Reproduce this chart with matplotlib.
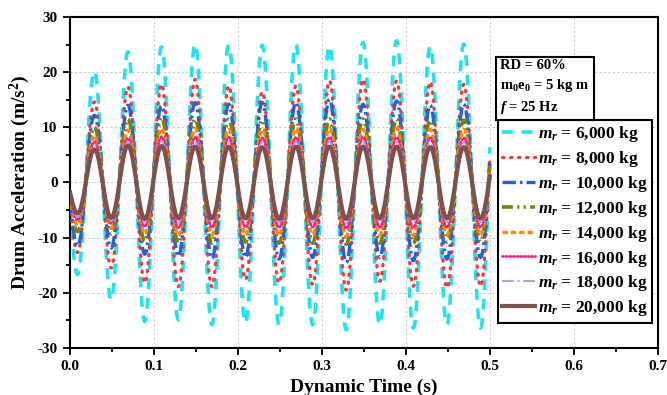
import numpy as np
import matplotlib
matplotlib.use("Agg")
import matplotlib.pyplot as plt
from matplotlib.ticker import MultipleLocator

plt.rcParams['font.family'] = ['Liberation Serif', 'DejaVu Serif']
plt.rcParams['font.weight'] = 'bold'
plt.rcParams['mathtext.fontset'] = 'custom'
plt.rcParams['mathtext.rm'] = 'Liberation Serif:bold'
plt.rcParams['mathtext.it'] = 'Liberation Serif:italic:bold'
plt.rcParams['mathtext.bf'] = 'Liberation Serif:bold'
plt.rcParams['axes.unicode_minus'] = False

# masses of the roller (kg)
masses = [6000, 8000, 10000, 12000, 14000, 16000, 18000, 20000]

# times of the troughs and peaks (s)
trough_t = [0.009, 0.049, 0.089, 0.129, 0.169, 0.209, 0.249, 0.289, 0.329, 0.369, 0.409, 0.449, 0.489]
peak_t = [0.029, 0.069, 0.109, 0.149, 0.189, 0.229, 0.269, 0.309, 0.349, 0.389, 0.429, 0.469]
t_start, t_end = 0.0, 0.5

# values at start / end of record (m/s^2)
start_val = [-5.0, -4.0, -3.5, -3.0, -2.5, -2.2, -2.0, -1.8]
end_val = [6.4, 4.5, 3.5, 3.0, 2.3, 1.8, 1.5, 1.1]

# peak accelerations per cycle (m/s^2)
peaks = [
    [20.2, 23.7, 24.6, 25.1, 24.9, 24.9, 25.0, 24.8, 25.4, 25.7, 24.7, 25.1],
    [14.6, 17.3, 17.8, 18.7, 17.5, 16.4, 17.5, 18.4, 18.7, 18.4, 18.2, 17.8],
    [12.2, 14.0, 13.9, 14.5, 14.2, 14.5, 14.5, 15.1, 14.2, 14.8, 14.0, 14.2],
    [10.0, 11.5, 11.8, 11.5, 11.5, 11.3, 11.5, 11.5, 11.5, 11.5, 11.3, 11.3],
    [8.5, 9.5, 9.8, 9.8, 9.6, 9.6, 9.8, 9.8, 9.6, 9.8, 9.6, 9.6],
    [7.4, 8.0, 8.3, 8.2, 8.2, 8.1, 8.2, 8.2, 8.2, 8.2, 8.1, 8.1],
    [6.8, 7.4, 7.5, 7.4, 7.4, 7.3, 7.4, 7.4, 7.4, 7.4, 7.3, 7.3],
    [6.0, 6.7, 6.6, 6.5, 6.5, 6.4, 6.5, 6.5, 6.5, 6.5, 6.4, 6.4],
]

# trough accelerations per cycle (m/s^2)
troughs = [
    [-16.7, -21.3, -25.2, -24.9, -25.8, -25.5, -25.8, -25.8, -26.7, -25.8, -26.4, -25.8, -26.4],
    [-12.7, -15.5, -18.2, -18.9, -18.9, -17.6, -18.2, -18.5, -19.5, -17.9, -18.8, -19.1, -18.8],
    [-11.5, -11.9, -13.0, -13.4, -13.8, -13.6, -13.9, -13.6, -14.5, -13.6, -14.2, -13.9, -13.6],
    [-8.9, -9.3, -10.7, -11.0, -11.0, -10.8, -11.0, -11.0, -11.2, -11.0, -11.0, -10.8, -10.8],
    [-7.8, -8.3, -9.3, -9.6, -9.5, -9.5, -9.6, -9.5, -9.7, -9.5, -9.6, -9.5, -9.5],
    [-6.8, -7.4, -8.0, -8.2, -8.1, -8.1, -8.2, -8.1, -8.3, -8.1, -8.2, -8.1, -8.1],
    [-6.3, -7.0, -7.3, -7.3, -7.2, -7.2, -7.3, -7.2, -7.4, -7.2, -7.3, -7.2, -7.2],
    [-5.6, -6.4, -6.6, -6.5, -6.5, -6.5, -6.6, -6.5, -6.6, -6.5, -6.5, -6.5, -6.5],
]

colors = ['#1FE3EE', '#F03C3C', '#1E62DC', '#808000', '#FF8410', '#FF1C8C', '#9AA2FF', '#7E524C']
styles = [(0, (3.0, 2.4)), (0, (0.4, 2.0)), (0, (4, 1.2, 0.8, 1.2)), (0, (3, 1.2, 0.6, 1.2, 0.6, 1.2)),
          (0, (1.6, 0.9)), (0, (0.4, 0.9)), (0, (6, 2, 1, 2)), '-']
widths = [2.6, 2.4, 2.4, 2.6, 2.4, 2.0, 1.4, 3.0]
caps = ['butt', 'round', 'butt', 'butt', 'butt', 'round', 'butt', 'butt']


def waveform(i, n=30):
    # key points alternate trough/peak; join them with half-cosine arcs
    kt = [t_start]
    kv = [start_val[i]]
    for k in range(len(trough_t)):
        kt.append(trough_t[k]); kv.append(troughs[i][k])
        if k < len(peak_t):
            kt.append(peak_t[k]); kv.append(peaks[i][k])
    kt.append(t_end); kv.append(end_val[i])
    ts, vs = [], []
    last = len(kt) - 2
    for j in range(len(kt) - 1):
        s = np.linspace(0, 1, n, endpoint=False)
        if j == 0:
            w = np.sin(np.pi / 2 * s)
        elif j == last:
            w = 1 - np.cos(np.pi / 2 * s)
        else:
            w = (1 - np.cos(np.pi * s)) / 2
        ts.append(kt[j] + (kt[j + 1] - kt[j]) * s)
        vs.append(kv[j] + (kv[j + 1] - kv[j]) * w)
    ts.append([kt[-1]]); vs.append([kv[-1]])
    return np.concatenate(ts), np.concatenate(vs)


fig = plt.figure(figsize=(6.67, 3.95), dpi=100)
ax = fig.add_axes([0.105, 0.119, 0.881, 0.838])

for i, m in enumerate(masses):
    t, a = waveform(i)
    ax.plot(t, a, color=colors[i], linestyle=styles[i], linewidth=widths[i],
            dash_capstyle=caps[i], label=r'$m_r$ = {:,} kg'.format(m), zorder=2 + i)

ax.set_xlim(0, 0.7)
ax.set_ylim(-30, 30)
ax.xaxis.set_major_locator(MultipleLocator(0.1))
ax.xaxis.set_minor_locator(MultipleLocator(0.05))
ax.yaxis.set_major_locator(MultipleLocator(10))
ax.yaxis.set_minor_locator(MultipleLocator(5))
ax.xaxis.set_major_formatter(plt.FuncFormatter(lambda v, p: '{:.1f}'.format(v)))
ax.tick_params(which='both', direction='out', width=1.3, labelsize=11, pad=4)
ax.tick_params(which='major', length=5)
ax.tick_params(which='minor', length=3)
ax.grid(True, which='major', linestyle=(0, (2, 2)), color='#cccccc', linewidth=0.8, zorder=0)
for sp in ax.spines.values():
    sp.set_linewidth(1.5)

ax.set_xlabel('Dynamic Time (s)', fontsize=14, fontweight='bold', labelpad=4)
ax.set_ylabel('Drum Acceleration (m/s$^2$)', fontsize=14, fontweight='bold', labelpad=4)

leg = ax.legend(loc='upper right', bbox_to_anchor=(0.99, 0.689), fontsize=12.5, frameon=True,
                fancybox=False, framealpha=1, edgecolor='black', handlelength=1.9,
                handletextpad=0.15, borderpad=0.25, labelspacing=0.28, borderaxespad=0)
leg.get_frame().set_linewidth(1.5)
leg.set_zorder(20)

ax.text(0.732, 0.787, 'RD = 60%\n$\\mathrm{m_0e_0}$ = 5 kg m\n$f$ = 25 Hz',
        transform=ax.transAxes, fontsize=10.5, fontweight='bold', va='center', ha='left',
        linespacing=1.4, zorder=21,
        bbox=dict(boxstyle='square,pad=0.3', facecolor='white', edgecolor='black', linewidth=1.5))

fig.savefig('out.png', dpi=100)
